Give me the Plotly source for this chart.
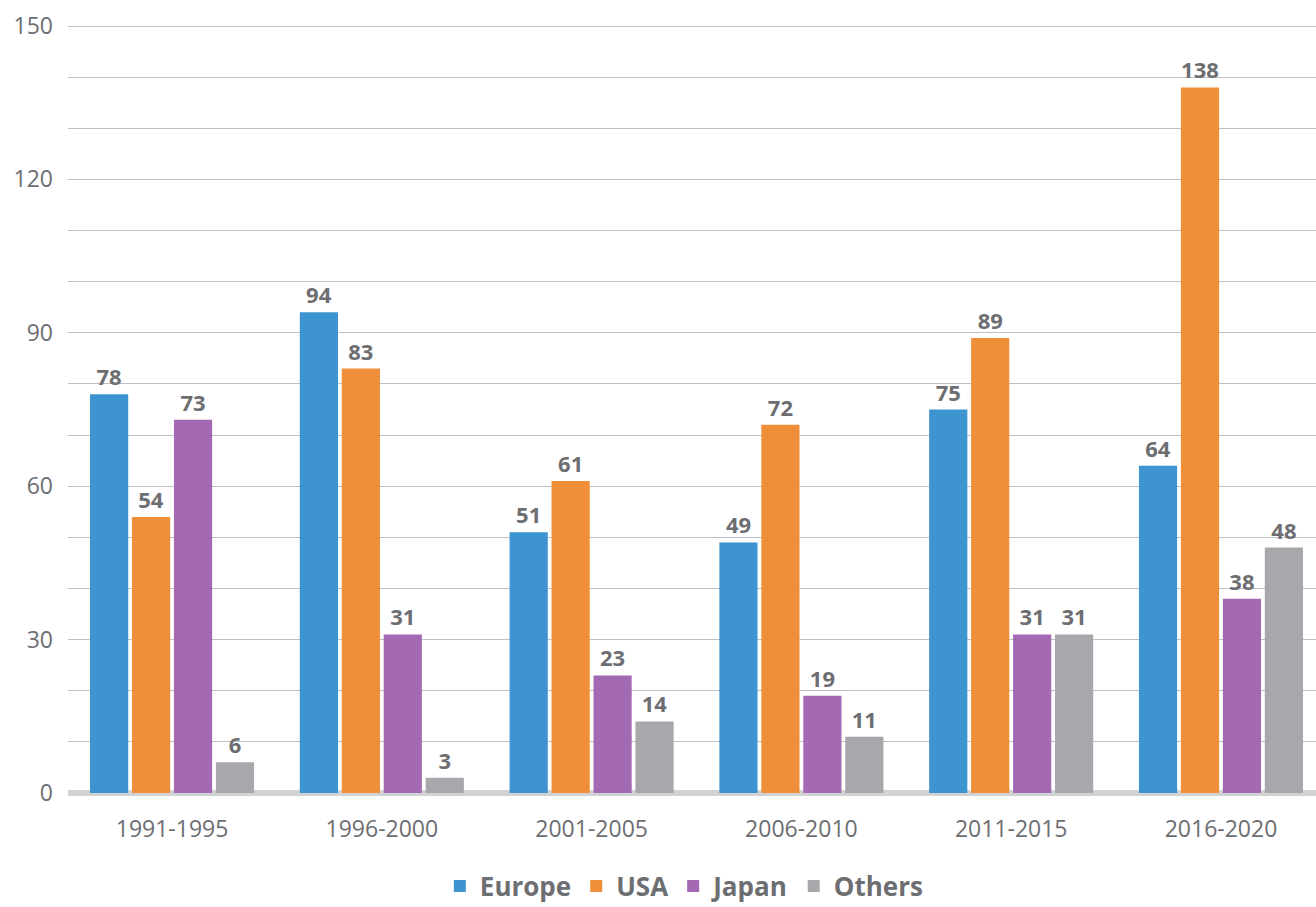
import plotly.graph_objects as go

periods = ["1991-1995", "1996-2000", "2001-2005", "2006-2010", "2011-2015", "2016-2020"]
europe = [78, 94, 51, 49, 75, 64]
usa = [54, 83, 61, 72, 89, 138]
japan = [73, 31, 23, 19, 31, 38]
others = [6, 3, 14, 11, 31, 48]

series = [
    ("Europe", europe, "#3d94d1"),
    ("USA", usa, "#ef8f3a"),
    ("Japan", japan, "#a469b3"),
    ("Others", others, "#a7a8ab"),
]

FONT = "Open Sans"
GRAY = "#6d6e71"

fig = go.Figure()
for name, vals, color in series:
    fig.add_trace(go.Bar(
        name=name, x=periods, y=vals, marker=dict(color=color, line=dict(width=0)),
        text=[str(v) for v in vals], textposition="outside",
        textfont=dict(family=FONT, size=22, color=GRAY, weight="bold"),
        cliponaxis=False,
    ))

fig.update_layout(
    width=1316, height=907,
    margin=dict(l=68, r=0, t=25, b=114, autoexpand=False),
    paper_bgcolor="white", plot_bgcolor="white",
    barmode="group", bargap=0.2, bargroupgap=0.09,
    font=dict(family=FONT, color=GRAY),
    showlegend=True,
    legend=dict(orientation="h", x=0.52, xanchor="center", xref="container",
                y=0.023, yanchor="middle", yref="container",
                font=dict(family=FONT, size=26, color=GRAY, weight="bold"),
                itemwidth=30, traceorder="normal"),
)
fig.update_xaxes(
    range=[-0.496, 5.453],
    showgrid=False, showline=False, ticks="", automargin=False,
    tickfont=dict(family=FONT, size=23, color=GRAY),
    ticklabelstandoff=20,
)
fig.update_yaxes(
    range=[0, 150.2], tickvals=[0, 30, 60, 90, 120, 150], automargin=False,
    showgrid=True, gridcolor="#bfc0c2", gridwidth=1,
    minor=dict(tickvals=[10, 20, 40, 50, 70, 80, 100, 110, 130, 140],
               showgrid=True, gridcolor="#bfc0c2", gridwidth=1),
    zeroline=True, zerolinecolor="#d1d2d4", zerolinewidth=6,
    showline=False, ticks="",
    tickfont=dict(family=FONT, size=23, color=GRAY),
    ticklabelstandoff=14,
)

fig.write_html("out.html")
